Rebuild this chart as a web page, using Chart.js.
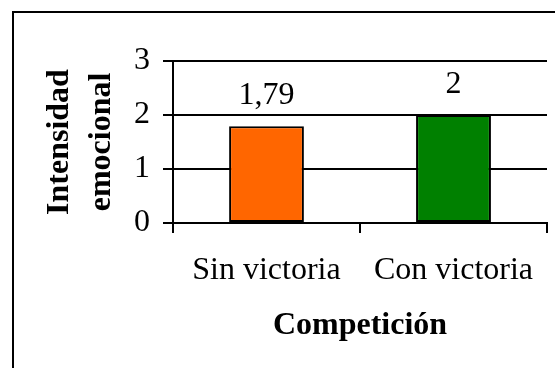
<!DOCTYPE html>
<html>
<head>
<meta charset="utf-8">
<script src="https://cdn.jsdelivr.net/npm/chart.js@4/dist/chart.umd.min.js"></script>
<style>
  html, body { margin: 0; padding: 0; background: #ffffff; }
  #wrap { position: relative; width: 555px; height: 368px; }
</style>
</head>
<body>
<div id="wrap"><canvas id="c" width="555" height="368"></canvas></div>
<script>
// Categories and values
const categories = ['Sin victoria', 'Con victoria'];
const intensidad = [1.79, 2];
const valueLabels = ['1,79', '2'];
const barColors = ['#FF6600', '#008000'];
const yTicks = [0, 1, 2, 3];

const SERIF = '"Liberation Serif", "Times New Roman", serif';

// Outer frame around the whole chart
const framePlugin = {
  id: 'frame',
  beforeDraw(chart) {
    const ctx = chart.ctx;
    ctx.save();
    ctx.fillStyle = '#ffffff';
    ctx.fillRect(0, 0, chart.width, chart.height);
    ctx.strokeStyle = '#000000';
    ctx.lineWidth = 2;
    ctx.strokeRect(13, 12, chart.width + 20, chart.height + 20);
    ctx.restore();
  }
};

// Value labels above each bar
const valueLabelPlugin = {
  id: 'valueLabels',
  afterDatasetsDraw(chart) {
    const ctx = chart.ctx;
    const meta = chart.getDatasetMeta(0);
    ctx.save();
    ctx.font = '32px ' + SERIF;
    ctx.fillStyle = '#000000';
    ctx.textAlign = 'center';
    ctx.textBaseline = 'alphabetic';
    meta.data.forEach((bar, i) => {
      ctx.fillText(valueLabels[i], bar.x, bar.y - 22);
    });
    ctx.restore();
  }
};

new Chart(document.getElementById('c'), {
  type: 'bar',
  data: {
    labels: categories,
    datasets: [{
      data: intensidad,
      backgroundColor: barColors,
      borderColor: '#000000',
      borderWidth: 2,
      borderSkipped: false,
      barPercentage: 0.4,
      categoryPercentage: 1.0
    }]
  },
  options: {
    responsive: false,
    animation: false,
    devicePixelRatio: 1,
    layout: { padding: { top: 61, right: 8, bottom: 0, left: 0 } },
    plugins: {
      legend: { display: false },
      tooltip: { enabled: false }
    },
    scales: {
      x: {
        offset: true,
        grid: {
          offset: true,
          drawOnChartArea: false,
          drawTicks: true,
          tickLength: 10,
          color: '#000000',
          lineWidth: 2
        },
        border: { display: true, color: '#000000', width: 2 },
        ticks: {
          color: '#000000',
          padding: 18,
          maxRotation: 0,
          font: { family: SERIF, size: 32 }
        },
        title: {
          display: true,
          text: 'Competición',
          color: '#000000',
          padding: { top: 0, bottom: 23 },
          font: { family: SERIF, size: 32, weight: 'bold', lineHeight: 1.2 }
        },
        afterFit(scale) { scale.height = 145; }
      },
      y: {
        min: 0,
        max: 3,
        afterBuildTicks(scale) { scale.ticks = yTicks.map(v => ({ value: v })); },
        grid: {
          drawOnChartArea: true,
          drawTicks: true,
          tickLength: 10,
          color: '#000000',
          lineWidth: 2
        },
        border: { display: true, color: '#000000', width: 2 },
        ticks: {
          color: '#000000',
          padding: 13,
          font: { family: SERIF, size: 32 }
        },
        title: {
          display: true,
          text: ['Intensidad', 'emocional'],
          color: '#000000',
          padding: { top: 39, bottom: 0 },
          font: { family: SERIF, size: 32, weight: 'bold', lineHeight: 1.3 }
        },
        afterFit(scale) { scale.width = 173; }
      }
    }
  },
  plugins: [framePlugin, valueLabelPlugin]
});
</script>
</body>
</html>
